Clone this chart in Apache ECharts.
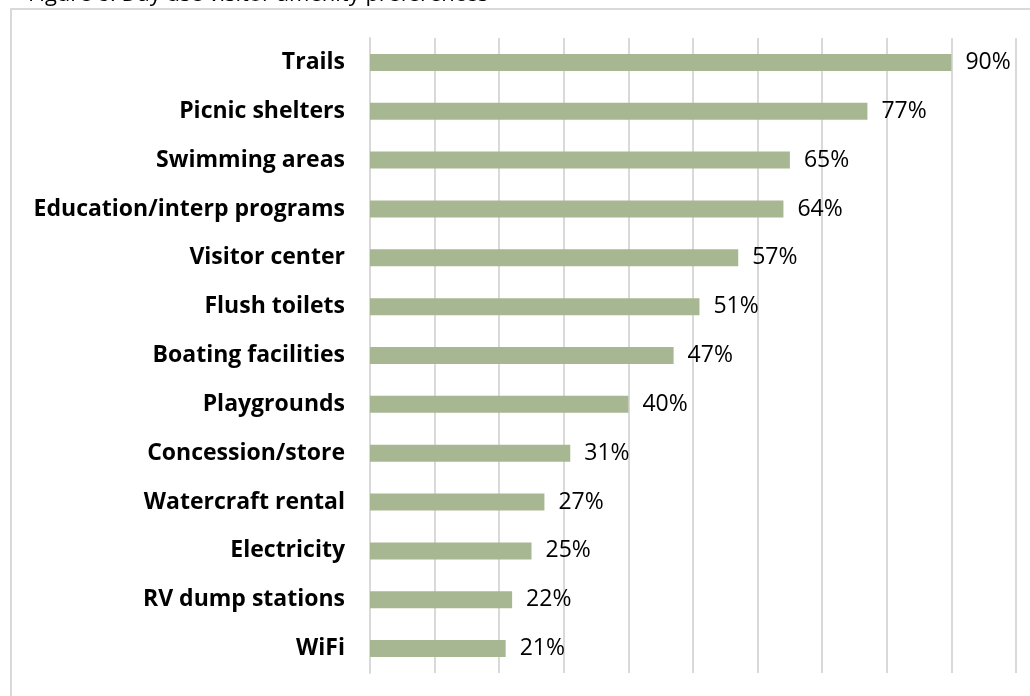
<!DOCTYPE html>
<html>
<head>
<meta charset="utf-8">
<script src="https://cdn.jsdelivr.net/npm/echarts@6/dist/echarts.min.js"></script>
<style>
  html, body { margin: 0; padding: 0; background: #fff; }
  #main { width: 1030px; height: 696px; }
</style>
</head>
<body>
<div id="main"></div>
<script>
// amenities, top to bottom
var categories = ['Trails', 'Picnic shelters', 'Swimming areas', 'Education/interp programs',
  'Visitor center', 'Flush toilets', 'Boating facilities', 'Playgrounds', 'Concession/store',
  'Watercraft rental', 'Electricity', 'RV dump stations', 'WiFi'];
var values = [90, 77, 65, 64, 57, 51, 47, 40, 31, 27, 25, 22, 21];
var titleText = 'Figure 8. Day use visitor amenity preferences';

var chart = echarts.init(document.getElementById('main'));

var option = {
  backgroundColor: '#fff',
  animation: false,
  textStyle: { fontFamily: 'Open Sans' },
  graphic: [
    {
      type: 'rect',
      shape: { x: 11, y: 9, width: 1040, height: 720 },
      style: { fill: 'none', stroke: '#d9d9d9', lineWidth: 2 },
      silent: true
    },
    {
      // title is cut off by the top edge, only its lower part shows
      type: 'text',
      x: 28,
      y: 6,
      style: { text: titleText, font: '22px "Open Sans"', fill: '#000', verticalAlign: 'bottom' }
    }
  ],
  grid: { left: 370, right: 14, top: 38, bottom: 23, containLabel: false },
  xAxis: {
    type: 'value',
    min: 0,
    max: 100,
    interval: 10,
    axisLabel: { show: false },
    axisLine: { show: false },
    axisTick: { show: false },
    splitLine: { show: true, lineStyle: { color: '#d9d9d9', width: 2 } }
  },
  yAxis: {
    type: 'category',
    data: categories,
    inverse: true,
    axisLine: { show: true, lineStyle: { color: '#d9d9d9', width: 2 } },
    axisTick: { show: false },
    axisLabel: {
      margin: 25,
      color: '#000',
      fontWeight: 'bold',
      fontSize: 23,
      fontFamily: 'Open Sans'
    }
  },
  series: [{
    type: 'bar',
    data: values,
    barWidth: 17,
    itemStyle: { color: '#a7b792' },
    label: {
      show: true,
      position: 'right',
      distance: 14,
      formatter: '{c}%',
      color: '#000',
      fontSize: 23,
      fontFamily: 'Open Sans'
    }
  }]
};

chart.setOption(option);
</script>
</body>
</html>
